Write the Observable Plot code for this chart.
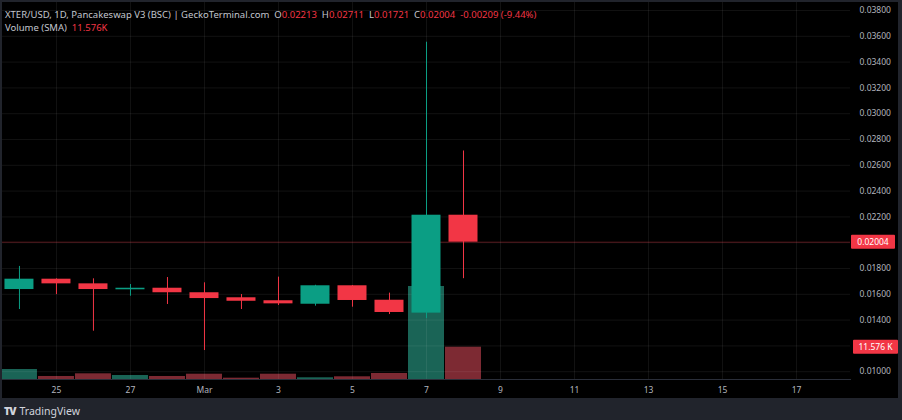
<!DOCTYPE html>
<html>
<head>
<meta charset="utf-8">
<script src="https://cdn.jsdelivr.net/npm/d3@7"></script>
<script src="https://cdn.jsdelivr.net/npm/@observablehq/plot@0.6"></script>
<style>
  html, body { margin: 0; padding: 0; background: #21242c; }
  #wrap { position: relative; width: 902px; height: 420px; background: #21242c; font-family: "Noto Sans", sans-serif; overflow: hidden; }
  #pane { position: absolute; left: 2px; top: 2px; width: 896px; height: 396px; background: #000; }
  #pane svg { position: absolute; left: 0; top: 0; background: transparent; }
  .legend { position: absolute; left: 5px; font-size: 9.5px; color: #c3c6ce; white-space: pre; }
  .legend .v { color: #f23645; }
  #brand { position: absolute; left: 4px; top: 404px; font-size: 10.5px; color: #d1d4dc; }
  #brand b { font-weight: 900; letter-spacing: -1px; margin-right: 4px; }
</style>
</head>
<body>
<div id="wrap">
  <div id="pane"></div>
  <div class="legend" style="top:8px">XTER/USD, 1D, Pancakeswap V3 (BSC) | GeckoTerminal.com  O<span class="v">0.02213</span>  H<span class="v">0.02711</span>  L<span class="v">0.01721</span>  C<span class="v">0.02004</span>  <span class="v">-0.00209 (-9.44%)</span></div>
  <div class="legend" style="top:21px">Volume (SMA)  <span class="v">11.576K</span></div>
  <div id="brand"><b>TV</b>TradingView</div>
</div>
<script>
// daily candles, Feb 24 - Mar 8
const days = ["2025-02-24", "2025-02-25", "2025-02-26", "2025-02-27", "2025-02-28", "2025-03-01", "2025-03-02",
  "2025-03-03", "2025-03-04", "2025-03-05", "2025-03-06", "2025-03-07", "2025-03-08"];
const open = [0.01637, 0.01717, 0.01681, 0.01635, 0.01647, 0.01612, 0.01573, 0.01550, 0.01523, 0.01666, 0.01554, 0.01454, 0.02213];
const high = [0.01816, 0.01720, 0.01720, 0.01676, 0.01730, 0.01689, 0.01598, 0.01733, 0.01670, 0.01668, 0.01609, 0.03554, 0.02711];
const low = [0.01482, 0.01598, 0.01314, 0.01585, 0.01521, 0.01164, 0.01482, 0.01513, 0.01508, 0.01500, 0.01443, 0.01412, 0.01721];
const close = [0.01717, 0.01681, 0.01637, 0.01647, 0.01612, 0.01567, 0.01546, 0.01526, 0.01666, 0.01552, 0.01459, 0.02213, 0.02004];
const volume = [3580, 1080, 2040, 1430, 1080, 1900, 470, 1900, 610, 970, 2150, 33330, 11576];

const tickDays = ["2025-02-25", "2025-02-27", "2025-03-01", "2025-03-03", "2025-03-05", "2025-03-07",
  "2025-03-09", "2025-03-11", "2025-03-13", "2025-03-15", "2025-03-17"];
const priceTicks = [0.010, 0.012, 0.014, 0.016, 0.018, 0.020, 0.022, 0.024, 0.026, 0.028, 0.030, 0.032, 0.034, 0.036, 0.038];
// labels hidden behind the last-value tags
const hiddenLabels = [0.012, 0.020];

const UP = "#0b9e84", DOWN = "#f23645";
const UP_VOL = "#1a6456", DOWN_VOL = "#7d2a33";

const candles = days.map((d, i) => ({
  date: new Date(d), open: open[i], high: high[i], low: low[i], close: close[i], volume: volume[i]
}));
const ticks = tickDays.map(d => new Date(d));
const half = d => [d3.utcHour.offset(d, -12), d3.utcHour.offset(d, 12)];
const isUp = d => d.close >= d.open;

const W = 896, H = 396;
const xDomain = [new Date("2025-02-23T13:00Z"), new Date("2025-03-18T11:00Z")];
const common = { width: W, height: H, marginLeft: 0, marginRight: 48, marginTop: 0, marginBottom: 19 };
const pane = document.getElementById("pane");

// volume layer (own y scale, drawn underneath)
const volPlot = Plot.plot({
  ...common,
  style: { background: "transparent" },
  x: { type: "utc", domain: xDomain, axis: null },
  y: { domain: [0, 135100], axis: null },
  marks: [
    Plot.rect(candles, {
      x1: d => half(d.date)[0], x2: d => half(d.date)[1],
      y1: 0, y2: "volume",
      fill: d => isUp(d) ? UP_VOL : DOWN_VOL,
      insetLeft: 0.5, insetRight: 0.5
    })
  ]
});
pane.appendChild(volPlot);

// price layer
const pricePlot = Plot.plot({
  ...common,
  style: { background: "transparent", fontFamily: "Noto Sans, sans-serif" },
  x: { type: "utc", domain: xDomain },
  y: { domain: [0.009395, 0.03862] },
  marks: [
    Plot.gridX(ticks, { stroke: "#fff", strokeOpacity: 0.07 }),
    Plot.gridY(priceTicks, { stroke: "#fff", strokeOpacity: 0.07 }),
    Plot.frame({ anchor: "bottom", stroke: "#2a2e39" }),
    Plot.ruleY([close[close.length - 1]], { stroke: DOWN, strokeOpacity: 0.35 }),
    Plot.ruleX(candles, { x: "date", y1: "low", y2: "high", stroke: d => isUp(d) ? UP : DOWN, strokeWidth: 1 }),
    Plot.rect(candles, {
      x1: d => half(d.date)[0], x2: d => half(d.date)[1],
      y1: "open", y2: "close",
      fill: d => isUp(d) ? UP : DOWN,
      insetLeft: 4, insetRight: 4
    }),
    Plot.axisX(ticks, {
      tickSize: 0, tickPadding: 7, fontSize: 8.5, fill: "#b2b5be",
      tickFormat: d => d.getUTCDate() === 1 ? d3.utcFormat("%b")(d) : String(d.getUTCDate())
    }),
    Plot.axisY(priceTicks.filter(t => !hiddenLabels.includes(t)), {
      anchor: "right", tickSize: 0, tickPadding: 9, fontSize: 8.5, fill: "#b2b5be",
      tickFormat: d => d.toFixed(5)
    })
  ]
});
pane.appendChild(pricePlot);

// last-value tags on the right scale
function tag(svg, y, text, x0, w) {
  const g = d3.select(svg).append("g");
  g.append("rect").attr("x", x0).attr("y", y - 7).attr("width", w).attr("height", 14).attr("fill", DOWN).attr("rx", 1);
  g.append("text").attr("x", x0 + w / 2).attr("y", y).attr("dy", "0.35em")
    .attr("text-anchor", "middle").attr("fill", "#fff").attr("font-size", 8.5)
    .attr("font-family", "Noto Sans, sans-serif").text(text);
}
const last = candles[candles.length - 1];
tag(pricePlot, pricePlot.scale("y").apply(last.close), last.close.toFixed(5), 849, 44);
tag(pricePlot, volPlot.scale("y").apply(last.volume), "11.576 K", 851, 45);
</script>
</body>
</html>
